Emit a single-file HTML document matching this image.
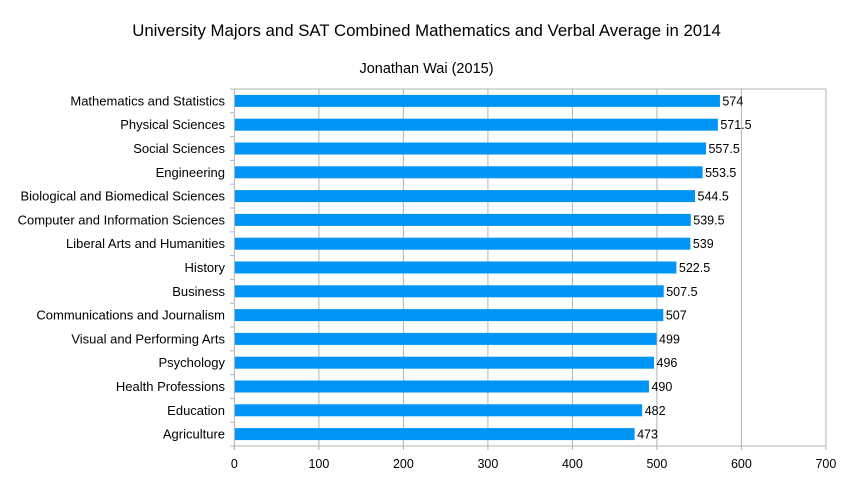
<!DOCTYPE html>
<html><head><meta charset="utf-8"><style>body{margin:0;background:#fff}svg{display:block}text{font-family:"Liberation Sans",sans-serif;fill:#000}</style></head><body>
<svg width="853" height="480" xmlns="http://www.w3.org/2000/svg">
<rect width="853" height="480" fill="#fff"/>
<text x="426.5" y="36" font-size="16.8" text-anchor="middle">University Majors and SAT Combined Mathematics and Verbal Average in 2014</text>
<text x="426.5" y="73" font-size="14.5" text-anchor="middle">Jonathan Wai (2015)</text>
<g stroke="#b3b3b3" stroke-width="1">
<line x1="318.9" y1="89" x2="318.9" y2="446"/><line x1="403.4" y1="89" x2="403.4" y2="446"/><line x1="487.9" y1="89" x2="487.9" y2="446"/><line x1="572.4" y1="89" x2="572.4" y2="446"/><line x1="656.9" y1="89" x2="656.9" y2="446"/><line x1="741.4" y1="89" x2="741.4" y2="446"/><line x1="825.9" y1="89" x2="825.9" y2="446"/>
<line x1="234.4" y1="89" x2="825.9" y2="89"/>
<line x1="234.4" y1="89" x2="234.4" y2="450"/>
<line x1="230" y1="446" x2="825.9" y2="446"/>
</g>
<script>
(function(){
var d=[["Mathematics and Statistics",574],["Physical Sciences",571.5],["Social Sciences",557.5],["Engineering",553.5],["Biological and Biomedical Sciences",544.5],["Computer and Information Sciences",539.5],["Liberal Arts and Humanities",539],["History",522.5],["Business",507.5],["Communications and Journalism",507],["Visual and Performing Arts",499],["Psychology",496],["Health Professions",490],["Education",482],["Agriculture",473]];
var ns="http://www.w3.org/2000/svg",s=document.querySelector("svg");
function el(t,a,txt){var e=document.createElementNS(ns,t);for(var k in a)e.setAttribute(k,a[k]);if(txt!=null)e.textContent=txt;s.appendChild(e);return e;}
var x0=234.4,k=0.845,topY=89,h=23.8;
for(var i=0;i<=15;i++){el("line",{x1:230,x2:234.4,y1:topY+i*h,y2:topY+i*h,stroke:"#b3b3b3"});}
d.forEach(function(r,i){var c=topY+h*(i+0.5);var w=r[1]*k;
el("rect",{x:x0+0.5,y:c-6,width:w,height:12,fill:"#0095f5"});
el("text",{x:225,y:c+4.5,"font-size":"13","text-anchor":"end"},r[0]);
el("text",{x:x0+w+3,y:c+4.5,"font-size":"12.5"},String(r[1]));});
for(var v=0;v<=700;v+=100){el("line",{x1:x0+v*k,x2:x0+v*k,y1:446,y2:450,stroke:"#b3b3b3"});el("text",{x:x0+v*k,y:468,"font-size":"12.5","text-anchor":"middle"},String(v));}
})();
</script>
</svg>
</body></html>
